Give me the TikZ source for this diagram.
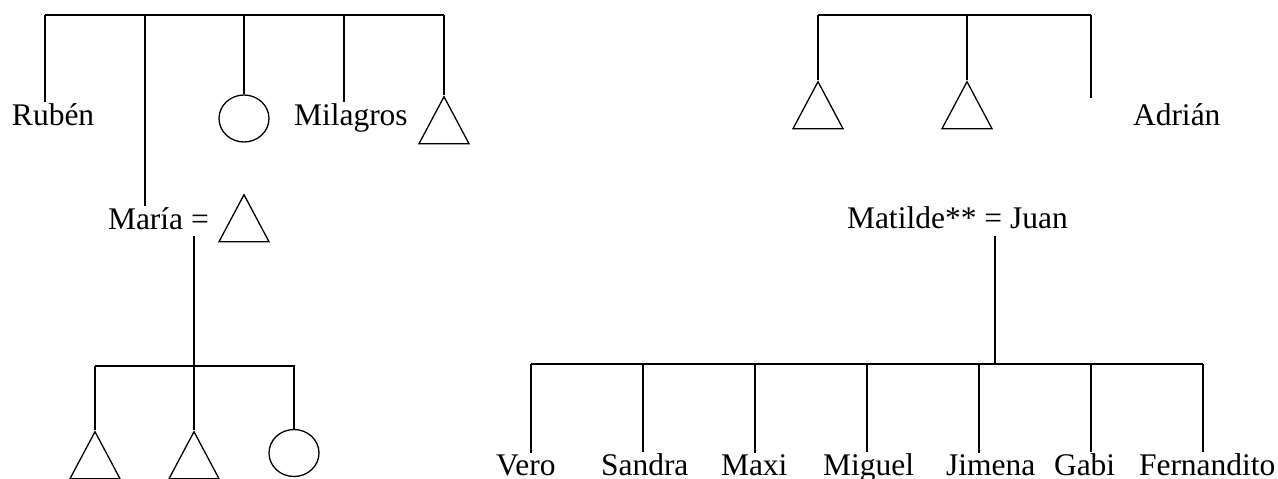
\documentclass[tikz,border=0pt]{standalone}
\usepackage{fontspec}
\setmainfont{Liberation Serif}
\usetikzlibrary{shapes.geometric}

\begin{document}
\begin{tikzpicture}[x=1pt, y=-1pt, line width=2pt,
    person/.style={inner sep=0pt, anchor=base west, font=\fontsize{31.5}{38}\selectfont},
    male/.style={draw, isosceles triangle, shape border rotate=90, isosceles triangle stretches, minimum width=50pt, minimum height=47pt, inner sep=0pt, anchor=apex, line width=1.3pt},
    female/.style={draw, ellipse, minimum width=50pt, minimum height=47pt, inner sep=0pt, line width=1.3pt}]
    \useasboundingbox (0,0) rectangle (1278,479);
    % siblings of Maria
    \coordinate (lb1) at (45,15);
    \coordinate (lb2) at (145,15);
    \coordinate (lb3) at (244,15);
    \coordinate (lb4) at (344,15);
    \coordinate (lb5) at (444,15);
    \draw (lb1) -- (lb5);
    \node [person] (ruben) at (11,125) {Rubén};
    \node [person] (maria) at (107,229) {María =};
    \node [female] (sister) at (244,118.5) {};
    \node [person] (milagros) at (293,125) {Milagros};
    \node [male] (brother) at (444,95) {};
    \draw (lb1) -- (lb1 |- ruben.north);
    \draw (lb2) -- (lb2 |- maria.north);
    \draw (lb3) -- (sister.north);
    \draw (lb4) -- (lb4 |- milagros.north);
    \draw (lb5) -- (brother.apex);
    \node [male] (husband) at (244,193) {};
    % children of Maria
    \coordinate (mm) at (194,236);
    \coordinate (cb1) at (95,366);
    \coordinate (cb2) at (194,366);
    \coordinate (cb3) at (295,366);
    \draw (cb1) -- (cb3);
    \draw (mm) -- (cb2);
    \node [male] (son1) at (95,430) {};
    \node [male] (son2) at (194,430) {};
    \node [female] (daughter) at (294,453) {};
    \draw (cb1) -- (son1.apex);
    \draw (cb2) -- (son2.apex);
    \draw (cb3 -| daughter.north) -- (daughter.north);
    % siblings of Juan
    \coordinate (rb1) at (818,15);
    \coordinate (rb2) at (967,15);
    \coordinate (rb3) at (1091,15);
    \coordinate (rend) at (1091,98);
    \draw (rb1) -- (rb3);
    \node [male] (jbro1) at (818,80) {};
    \node [male] (jbro2) at (967,80) {};
    \node [person] (adrian) at (1132,125) {Adrián};
    \draw (rb1) -- (jbro1.apex);
    \draw (rb2) -- (jbro2.apex);
    \draw (rb3) -- (rend);
    % children of Matilde and Juan
    \node [person] (matilde) at (846,228) {Matilde** = Juan};
    \coordinate (mj) at (995,236);
    \coordinate (kb1) at (531,364);
    \coordinate (kb7) at (1203,364);
    \draw (kb1) -- (kb7);
    \draw (mj) -- (mj |- kb1);
    \foreach \kname/\kx [count=\i] in {Vero/495, Sandra/600, Maxi/720, Miguel/822, Jimena/945, Gabi/1053, Fernandito/1138} {
        \node [person] (kid\i) at (\kx,475) {\kname};
        \coordinate (kl\i) at ({419+112*\i},364);
        \draw (kl\i) -- (kl\i |- kid\i.north);
    }
\end{tikzpicture}
\end{document}
